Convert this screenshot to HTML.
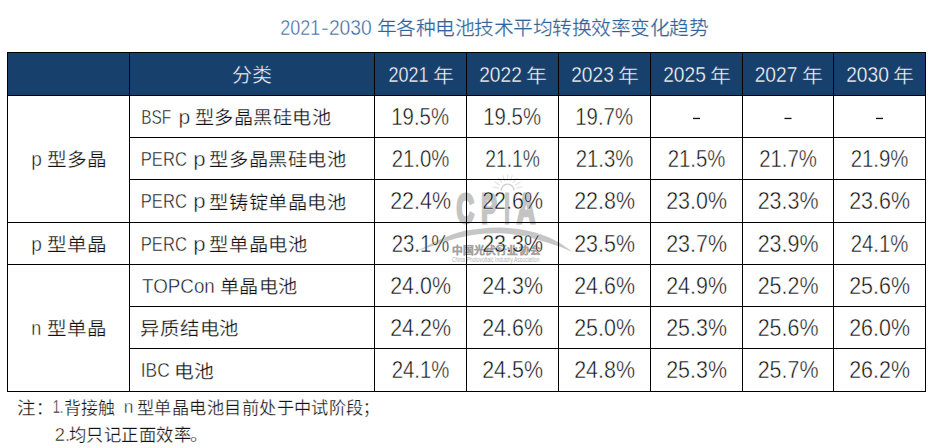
<!DOCTYPE html>
<html lang="zh-CN"><head><meta charset="utf-8"><title>2021-2030</title>
<style>
html,body{margin:0;padding:0;background:#fff;}
body{width:935px;height:448px;overflow:hidden;font-family:"Liberation Sans",sans-serif;}
svg{display:block;font-family:"Liberation Sans",sans-serif;}

</style></head><body>
<svg width="935" height="448" viewBox="0 0 935 448">
<rect x="7" y="52" width="919" height="44" fill="#17406d"/>
<g id="wm">
<path d="M498.8,188.1L492.4,186.8M500.0,185.2L494.5,181.8M502.1,182.9L498.1,177.8M504.8,181.4L502.8,175.3M507.6,181.0L507.6,174.5M510.4,181.4L512.4,175.3M513.1,182.9L517.1,177.8M515.2,185.2L520.7,181.8M516.4,188.1L522.8,186.8" stroke="#e2e2e2" stroke-width="1.1" fill="none"/>
<path d="M501.2,190.5 A6.4,6.4 0 0 1 514,190.5" fill="none" stroke="#d0d0d0" stroke-width="1.3"/>
<path d="M416,251.5C420.0,249.5 432.7,242.8 440.0,239.5C447.3,236.2 453.3,233.8 460.0,232.0C466.7,230.2 473.3,229.5 480.0,228.8C486.7,228.1 493.3,227.5 500.0,227.6C506.7,227.7 513.3,228.1 520.0,229.2C526.7,230.3 533.7,231.9 540.0,234.0C546.3,236.1 552.3,238.8 558.0,242.0C563.7,245.2 571.3,251.2 574.0,253.0C571.7,252.0 565.7,248.9 560.0,246.8C554.3,244.7 546.7,242.4 540.0,240.5C533.3,238.6 526.7,236.5 520.0,235.3C513.3,234.1 506.7,233.4 500.0,233.2C493.3,233.0 486.7,233.3 480.0,234.0C473.3,234.7 466.7,236.0 460.0,237.6C453.3,239.2 447.3,241.2 440.0,243.5C432.7,245.8 420.0,250.2 416.0,251.5Z" fill="#c6c6c6"/>
</g>
<text x="456.54" y="223.0" font-size="42" font-weight="bold" fill="#c4c4c4" stroke="#c4c4c4" stroke-width="3.2" textLength="17.53" lengthAdjust="spacingAndGlyphs">C</text>
<text x="481.34" y="223.0" font-size="42" font-weight="bold" fill="#c4c4c4" stroke="#c4c4c4" stroke-width="3.2" textLength="15.53" lengthAdjust="spacingAndGlyphs">P</text>
<text x="504.40" y="223.0" font-size="42" font-weight="bold" fill="#c4c4c4" stroke="#c4c4c4" stroke-width="3.2" textLength="5.06" lengthAdjust="spacingAndGlyphs">I</text>
<text x="517.00" y="223.0" font-size="42" font-weight="bold" fill="#c4c4c4" stroke="#c4c4c4" stroke-width="3.2" textLength="18.21" lengthAdjust="spacingAndGlyphs">A</text>
<text x="451.81" y="253.6" font-size="10.6" font-weight="bold" fill="#a0a0a0" stroke="#a0a0a0" stroke-width="0.25" textLength="89.07" lengthAdjust="spacingAndGlyphs">中国光伏行业协会</text>
<text x="451.99" y="261.7" font-size="7" fill="#b2b2b2" textLength="87.43" lengthAdjust="spacingAndGlyphs">China Photovoltaic Industry Association</text>
<g fill="#000"><rect x="7" y="52" width="919" height="1"/><rect x="7" y="95" width="919" height="1"/><rect x="7" y="222" width="919" height="1"/><rect x="7" y="264" width="919" height="1"/><rect x="7" y="391" width="919" height="1"/><rect x="129" y="137" width="797" height="1"/><rect x="129" y="179" width="797" height="1"/><rect x="129" y="306" width="797" height="1"/><rect x="129" y="348" width="797" height="1"/><rect x="7" y="52" width="1" height="340"/><rect x="129" y="52" width="1" height="340"/><rect x="374" y="52" width="1" height="340"/><rect x="466" y="52" width="1" height="340"/><rect x="558" y="52" width="1" height="340"/><rect x="650" y="52" width="1" height="340"/><rect x="742" y="52" width="1" height="340"/><rect x="833" y="52" width="1" height="340"/><rect x="925" y="52" width="1" height="340"/></g>
<text x="280.25" y="35" font-size="21.2" fill="#31649a" stroke="#fff" stroke-width="0.45" textLength="39.91" lengthAdjust="spacingAndGlyphs">2021</text>
<text x="320.90" y="35" font-size="21.2" fill="#31649a" stroke="#fff" stroke-width="0.45" textLength="7.77" lengthAdjust="spacingAndGlyphs">-</text>
<text x="328.89" y="35" font-size="21.2" fill="#31649a" stroke="#fff" stroke-width="0.45" textLength="42.95" lengthAdjust="spacingAndGlyphs">2030</text>
<text x="376.57" y="35.2" font-size="19.3" fill="#31649a" stroke="#fff" stroke-width="0.2" textLength="331.45" lengthAdjust="spacingAndGlyphs">年各种电池技术平均转换效率变化趋势</text>
<text x="231.94" y="82.0" font-size="19.0" fill="#fff" stroke="#17406d" stroke-width="0.4" textLength="40.11" lengthAdjust="spacingAndGlyphs">分类</text>
<text x="388.54" y="82" font-size="21.2" fill="#fff" stroke="#17406d" stroke-width="0.4" textLength="39.94" lengthAdjust="spacingAndGlyphs">2021</text>
<text x="432.81" y="83.3" font-size="19.0" fill="#fff" stroke="#17406d" stroke-width="0.4" textLength="20.90" lengthAdjust="spacingAndGlyphs">年</text>
<text x="479.18" y="82" font-size="21.2" fill="#fff" stroke="#17406d" stroke-width="0.4" textLength="42.66" lengthAdjust="spacingAndGlyphs">2022</text>
<text x="526.11" y="83.3" font-size="19.0" fill="#fff" stroke="#17406d" stroke-width="0.4" textLength="20.90" lengthAdjust="spacingAndGlyphs">年</text>
<text x="571.18" y="82" font-size="21.2" fill="#fff" stroke="#17406d" stroke-width="0.4" textLength="42.66" lengthAdjust="spacingAndGlyphs">2023</text>
<text x="618.11" y="83.3" font-size="19.0" fill="#fff" stroke="#17406d" stroke-width="0.4" textLength="20.90" lengthAdjust="spacingAndGlyphs">年</text>
<text x="663.18" y="82" font-size="21.2" fill="#fff" stroke="#17406d" stroke-width="0.4" textLength="42.66" lengthAdjust="spacingAndGlyphs">2025</text>
<text x="710.11" y="83.3" font-size="19.0" fill="#fff" stroke="#17406d" stroke-width="0.4" textLength="20.90" lengthAdjust="spacingAndGlyphs">年</text>
<text x="754.68" y="82" font-size="21.2" fill="#fff" stroke="#17406d" stroke-width="0.4" textLength="42.66" lengthAdjust="spacingAndGlyphs">2027</text>
<text x="801.61" y="83.3" font-size="19.0" fill="#fff" stroke="#17406d" stroke-width="0.4" textLength="20.90" lengthAdjust="spacingAndGlyphs">年</text>
<text x="846.18" y="82" font-size="21.2" fill="#fff" stroke="#17406d" stroke-width="0.4" textLength="42.66" lengthAdjust="spacingAndGlyphs">2030</text>
<text x="893.11" y="83.3" font-size="19.0" fill="#fff" stroke="#17406d" stroke-width="0.4" textLength="20.90" lengthAdjust="spacingAndGlyphs">年</text>
<text x="391.27" y="124.8" font-size="23.7" fill="#111" stroke="#fff" stroke-width="0.45" textLength="57.75" lengthAdjust="spacingAndGlyphs">19.5%</text>
<text x="483.27" y="124.8" font-size="23.7" fill="#111" stroke="#fff" stroke-width="0.45" textLength="57.75" lengthAdjust="spacingAndGlyphs">19.5%</text>
<text x="575.27" y="124.8" font-size="23.7" fill="#111" stroke="#fff" stroke-width="0.45" textLength="57.75" lengthAdjust="spacingAndGlyphs">19.7%</text>
<text x="391.68" y="166.8" font-size="23.7" fill="#111" stroke="#fff" stroke-width="0.45" textLength="57.79" lengthAdjust="spacingAndGlyphs">21.0%</text>
<text x="485.17" y="166.8" font-size="23.7" fill="#111" stroke="#fff" stroke-width="0.45" textLength="54.80" lengthAdjust="spacingAndGlyphs">21.1%</text>
<text x="575.68" y="166.8" font-size="23.7" fill="#111" stroke="#fff" stroke-width="0.45" textLength="57.79" lengthAdjust="spacingAndGlyphs">21.3%</text>
<text x="667.68" y="166.8" font-size="23.7" fill="#111" stroke="#fff" stroke-width="0.45" textLength="57.79" lengthAdjust="spacingAndGlyphs">21.5%</text>
<text x="759.18" y="166.8" font-size="23.7" fill="#111" stroke="#fff" stroke-width="0.45" textLength="57.79" lengthAdjust="spacingAndGlyphs">21.7%</text>
<text x="850.68" y="166.8" font-size="23.7" fill="#111" stroke="#fff" stroke-width="0.45" textLength="57.79" lengthAdjust="spacingAndGlyphs">21.9%</text>
<text x="390.18" y="208.8" font-size="23.7" fill="#111" stroke="#fff" stroke-width="0.45" textLength="60.79" lengthAdjust="spacingAndGlyphs">22.4%</text>
<text x="482.18" y="208.8" font-size="23.7" fill="#111" stroke="#fff" stroke-width="0.45" textLength="60.79" lengthAdjust="spacingAndGlyphs">22.6%</text>
<text x="574.18" y="208.8" font-size="23.7" fill="#111" stroke="#fff" stroke-width="0.45" textLength="60.79" lengthAdjust="spacingAndGlyphs">22.8%</text>
<text x="666.18" y="208.8" font-size="23.7" fill="#111" stroke="#fff" stroke-width="0.45" textLength="60.79" lengthAdjust="spacingAndGlyphs">23.0%</text>
<text x="757.68" y="208.8" font-size="23.7" fill="#111" stroke="#fff" stroke-width="0.45" textLength="60.79" lengthAdjust="spacingAndGlyphs">23.3%</text>
<text x="849.18" y="208.8" font-size="23.7" fill="#111" stroke="#fff" stroke-width="0.45" textLength="60.79" lengthAdjust="spacingAndGlyphs">23.6%</text>
<text x="391.68" y="251.8" font-size="23.7" fill="#111" stroke="#fff" stroke-width="0.45" textLength="57.79" lengthAdjust="spacingAndGlyphs">23.1%</text>
<text x="482.18" y="251.8" font-size="23.7" fill="#111" stroke="#fff" stroke-width="0.45" textLength="60.79" lengthAdjust="spacingAndGlyphs">23.3%</text>
<text x="574.18" y="251.8" font-size="23.7" fill="#111" stroke="#fff" stroke-width="0.45" textLength="60.79" lengthAdjust="spacingAndGlyphs">23.5%</text>
<text x="666.18" y="251.8" font-size="23.7" fill="#111" stroke="#fff" stroke-width="0.45" textLength="60.79" lengthAdjust="spacingAndGlyphs">23.7%</text>
<text x="757.68" y="251.8" font-size="23.7" fill="#111" stroke="#fff" stroke-width="0.45" textLength="60.79" lengthAdjust="spacingAndGlyphs">23.9%</text>
<text x="850.68" y="251.8" font-size="23.7" fill="#111" stroke="#fff" stroke-width="0.45" textLength="57.79" lengthAdjust="spacingAndGlyphs">24.1%</text>
<text x="390.18" y="293.8" font-size="23.7" fill="#111" stroke="#fff" stroke-width="0.45" textLength="60.79" lengthAdjust="spacingAndGlyphs">24.0%</text>
<text x="482.18" y="293.8" font-size="23.7" fill="#111" stroke="#fff" stroke-width="0.45" textLength="60.79" lengthAdjust="spacingAndGlyphs">24.3%</text>
<text x="574.18" y="293.8" font-size="23.7" fill="#111" stroke="#fff" stroke-width="0.45" textLength="60.79" lengthAdjust="spacingAndGlyphs">24.6%</text>
<text x="666.18" y="293.8" font-size="23.7" fill="#111" stroke="#fff" stroke-width="0.45" textLength="60.79" lengthAdjust="spacingAndGlyphs">24.9%</text>
<text x="757.68" y="293.8" font-size="23.7" fill="#111" stroke="#fff" stroke-width="0.45" textLength="60.79" lengthAdjust="spacingAndGlyphs">25.2%</text>
<text x="849.18" y="293.8" font-size="23.7" fill="#111" stroke="#fff" stroke-width="0.45" textLength="60.79" lengthAdjust="spacingAndGlyphs">25.6%</text>
<text x="390.18" y="335.8" font-size="23.7" fill="#111" stroke="#fff" stroke-width="0.45" textLength="60.79" lengthAdjust="spacingAndGlyphs">24.2%</text>
<text x="482.18" y="335.8" font-size="23.7" fill="#111" stroke="#fff" stroke-width="0.45" textLength="60.79" lengthAdjust="spacingAndGlyphs">24.6%</text>
<text x="574.18" y="335.8" font-size="23.7" fill="#111" stroke="#fff" stroke-width="0.45" textLength="60.79" lengthAdjust="spacingAndGlyphs">25.0%</text>
<text x="666.18" y="335.8" font-size="23.7" fill="#111" stroke="#fff" stroke-width="0.45" textLength="60.79" lengthAdjust="spacingAndGlyphs">25.3%</text>
<text x="757.68" y="335.8" font-size="23.7" fill="#111" stroke="#fff" stroke-width="0.45" textLength="60.79" lengthAdjust="spacingAndGlyphs">25.6%</text>
<text x="849.18" y="335.8" font-size="23.7" fill="#111" stroke="#fff" stroke-width="0.45" textLength="60.79" lengthAdjust="spacingAndGlyphs">26.0%</text>
<text x="391.68" y="377.8" font-size="23.7" fill="#111" stroke="#fff" stroke-width="0.45" textLength="57.79" lengthAdjust="spacingAndGlyphs">24.1%</text>
<text x="482.18" y="377.8" font-size="23.7" fill="#111" stroke="#fff" stroke-width="0.45" textLength="60.79" lengthAdjust="spacingAndGlyphs">24.5%</text>
<text x="574.18" y="377.8" font-size="23.7" fill="#111" stroke="#fff" stroke-width="0.45" textLength="60.79" lengthAdjust="spacingAndGlyphs">24.8%</text>
<text x="666.18" y="377.8" font-size="23.7" fill="#111" stroke="#fff" stroke-width="0.45" textLength="60.79" lengthAdjust="spacingAndGlyphs">25.3%</text>
<text x="757.68" y="377.8" font-size="23.7" fill="#111" stroke="#fff" stroke-width="0.45" textLength="60.79" lengthAdjust="spacingAndGlyphs">25.7%</text>
<text x="849.18" y="377.8" font-size="23.7" fill="#111" stroke="#fff" stroke-width="0.45" textLength="60.79" lengthAdjust="spacingAndGlyphs">26.2%</text>
<text x="31.23" y="166.3" font-size="19.8" fill="#111" stroke="#fff" stroke-width="0.45" textLength="10.65" lengthAdjust="spacingAndGlyphs">p</text>
<text x="46.55" y="166.2" font-size="18.7" fill="#111" stroke="#fff" stroke-width="0.25" textLength="59.96" lengthAdjust="spacingAndGlyphs">型多晶</text>
<text x="31.23" y="251.3" font-size="19.8" fill="#111" stroke="#fff" stroke-width="0.45" textLength="10.65" lengthAdjust="spacingAndGlyphs">p</text>
<text x="46.55" y="251.3" font-size="18.7" fill="#111" stroke="#fff" stroke-width="0.25" textLength="59.96" lengthAdjust="spacingAndGlyphs">型单晶</text>
<text x="31.29" y="335.0" font-size="19.8" fill="#111" stroke="#fff" stroke-width="0.45" textLength="10.04" lengthAdjust="spacingAndGlyphs">n</text>
<text x="46.85" y="335.3" font-size="18.7" fill="#111" stroke="#fff" stroke-width="0.25" textLength="59.64" lengthAdjust="spacingAndGlyphs">型单晶</text>
<text x="141.24" y="123.6" font-size="19.8" fill="#111" stroke="#fff" stroke-width="0.45" textLength="30.04" lengthAdjust="spacingAndGlyphs">BSF</text>
<text x="178.63" y="123.6" font-size="19.8" fill="#111" stroke="#fff" stroke-width="0.45" textLength="11.75" lengthAdjust="spacingAndGlyphs">p</text>
<text x="194.67" y="124.3" font-size="18.7" fill="#111" stroke="#fff" stroke-width="0.25" textLength="136.55" lengthAdjust="spacingAndGlyphs">型多晶黑硅电池</text>
<text x="140.72" y="165.6" font-size="19.8" fill="#111" stroke="#fff" stroke-width="0.45" textLength="46.19" lengthAdjust="spacingAndGlyphs">PERC</text>
<text x="193.38" y="165.6" font-size="19.8" fill="#111" stroke="#fff" stroke-width="0.45" textLength="12.36" lengthAdjust="spacingAndGlyphs">p</text>
<text x="209.37" y="166.3" font-size="18.7" fill="#111" stroke="#fff" stroke-width="0.25" textLength="137.26" lengthAdjust="spacingAndGlyphs">型多晶黑硅电池</text>
<text x="140.72" y="207.6" font-size="19.8" fill="#111" stroke="#fff" stroke-width="0.45" textLength="46.19" lengthAdjust="spacingAndGlyphs">PERC</text>
<text x="193.38" y="207.6" font-size="19.8" fill="#111" stroke="#fff" stroke-width="0.45" textLength="12.36" lengthAdjust="spacingAndGlyphs">p</text>
<text x="209.37" y="208.8" font-size="18.7" fill="#111" stroke="#fff" stroke-width="0.25" textLength="137.26" lengthAdjust="spacingAndGlyphs">型铸锭单晶电池</text>
<text x="140.72" y="250.6" font-size="19.8" fill="#111" stroke="#fff" stroke-width="0.45" textLength="46.19" lengthAdjust="spacingAndGlyphs">PERC</text>
<text x="193.38" y="250.6" font-size="19.8" fill="#111" stroke="#fff" stroke-width="0.45" textLength="12.36" lengthAdjust="spacingAndGlyphs">p</text>
<text x="209.36" y="251.3" font-size="18.7" fill="#111" stroke="#fff" stroke-width="0.25" textLength="98.37" lengthAdjust="spacingAndGlyphs">型单晶电池</text>
<text x="142.00" y="292.6" font-size="19.8" fill="#111" stroke="#fff" stroke-width="0.45" textLength="72.83" lengthAdjust="spacingAndGlyphs">TOPCon</text>
<text x="219.57" y="293.3" font-size="18.7" fill="#111" stroke="#fff" stroke-width="0.25" textLength="78.05" lengthAdjust="spacingAndGlyphs">单晶电池</text>
<text x="140.46" y="335.3" font-size="18.7" fill="#111" stroke="#fff" stroke-width="0.25" textLength="98.58" lengthAdjust="spacingAndGlyphs">异质结电池</text>
<text x="140.75" y="376.6" font-size="19.8" fill="#111" stroke="#fff" stroke-width="0.45" textLength="28.92" lengthAdjust="spacingAndGlyphs">IBC</text>
<text x="174.08" y="377.8" font-size="18.7" fill="#111" stroke="#fff" stroke-width="0.25" textLength="40.28" lengthAdjust="spacingAndGlyphs">电池</text>
<text x="17.10" y="413.6" font-size="16.8" fill="#111" stroke="#fff" stroke-width="0.25" textLength="18.70" lengthAdjust="spacingAndGlyphs">注</text>
<text x="36.00" y="413.6" font-size="16.8" fill="#111" stroke="#fff" stroke-width="0.25">：</text>
<text x="52.68" y="413.2" font-size="18.0" fill="#111" stroke="#fff" stroke-width="0.45" textLength="10.76" lengthAdjust="spacingAndGlyphs">1.</text>
<text x="64.09" y="413.6" font-size="16.8" fill="#111" stroke="#fff" stroke-width="0.25" textLength="51.52" lengthAdjust="spacingAndGlyphs">背接触</text>
<text x="123.84" y="413.2" font-size="18.0" fill="#111" stroke="#fff" stroke-width="0.45" textLength="9.64" lengthAdjust="spacingAndGlyphs">n</text>
<text x="137.07" y="413.6" font-size="16.8" fill="#111" stroke="#fff" stroke-width="0.25" textLength="226.65" lengthAdjust="spacingAndGlyphs">型单晶电池目前处于中试阶段</text>
<text x="362.60" y="413.6" font-size="16.8" fill="#111" stroke="#fff" stroke-width="0.25" textLength="15.87" lengthAdjust="spacingAndGlyphs">；</text>
<text x="54.78" y="441.0" font-size="18.0" fill="#111" stroke="#fff" stroke-width="0.45" textLength="15.27" lengthAdjust="spacingAndGlyphs">2.</text>
<text x="68.87" y="441.1" font-size="16.8" fill="#111" stroke="#fff" stroke-width="0.25" textLength="122.66" lengthAdjust="spacingAndGlyphs">均只记正面效率</text>
<text x="190.32" y="441.1" font-size="16.8" fill="#111" stroke="#fff" stroke-width="0.25" textLength="18.36" lengthAdjust="spacingAndGlyphs">。</text>
<rect x="693.0" y="117.8" width="7" height="1.3" fill="#111"/>
<rect x="784.5" y="117.8" width="7" height="1.3" fill="#111"/>
<rect x="876.0" y="117.8" width="7" height="1.3" fill="#111"/>
</svg>
</body></html>
